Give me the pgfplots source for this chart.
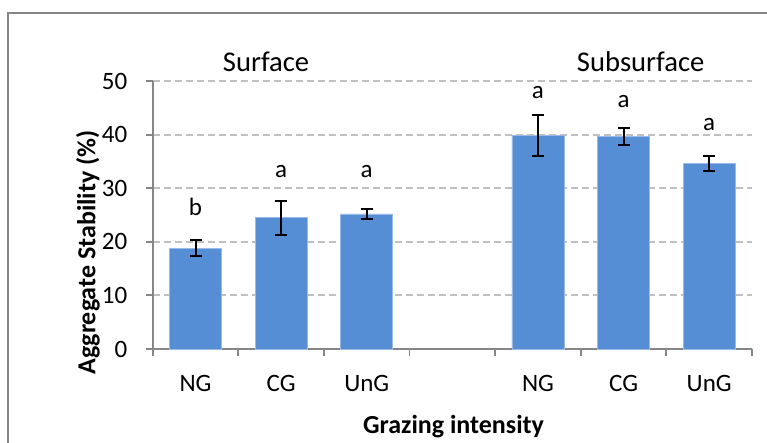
\documentclass[border=0pt]{standalone}
\usepackage{pgfplots}
\pgfplotsset{compat=1.18}
\usepackage{fontspec}
\setmainfont{Carlito}
\definecolor{barblue}{HTML}{558ED5}
\definecolor{axgray}{HTML}{868686}
\definecolor{gridgray}{HTML}{C0C0C0}
\pgfplotstableread{
x y err
0 18.8 1.5
1 24.5 3.2
2 25.2 1.0
4 39.8 3.8
5 39.7 1.6
6 34.7 1.4
}\datatable
\begin{document}
\begin{tikzpicture}
\begin{axis}[
  at={(0,0)}, anchor=south west,
  scale only axis, width=299.65pt, height=134pt,
  xmin=-0.5, xmax=6.5, ymin=0, ymax=50,
  axis lines=left, axis line style={-, axgray, line width=0.9pt},
  tick align=outside,
  major tick length=3.5pt,
  tick style={axgray, line width=0.9pt},
  ytick={0,10,...,50},
  xtick={-0.5,0.5,...,6.5}, xticklabels={},
  extra x ticks={0,1,2,4,5,6},
  extra x tick labels={NG,CG,UnG,NG,CG,UnG},
  extra x tick style={major tick length=0pt, xticklabel style={anchor=center, yshift=-17pt}},
  ymajorgrids,
  major grid style={gridgray, line width=1pt, dash pattern=on 3.5pt off 2pt},
  /pgf/number format/assume math mode=true,
  ticklabel style={font=\fontsize{12.5}{15}\selectfont},
  yticklabel style={inner sep=0pt, anchor=east, xshift=-9pt},
  ylabel={Aggregate Stability (\%)},
  ylabel style={at={(axis description cs:-0.108,0.36)}, anchor=center, font=\fontsize{13}{16}\selectfont\bfseries},
  xlabel={Grazing intensity},
  xlabel style={at={(axis description cs:0.502,-0.291)}, anchor=center, font=\fontsize{13}{16}\selectfont\bfseries},
  clip=false,
]
\addplot[ybar, bar width=26pt, bar shift=0pt, fill=barblue, draw=barblue!60!white, line width=0.4pt,
  error bars/.cd, y dir=both, y explicit,
  error bar style={black, line width=1pt},
  error mark options={rotate=90, mark size=3pt, black, line width=1pt}]
  table[x=x, y=y, y error=err]{\datatable};
\begin{scope}[font=\fontsize{12.5}{15}\selectfont]
\node at (axis cs:0,26.5) {b};
\node at (axis cs:1,33.1) {a};
\node at (axis cs:2,33.1) {a};
\node at (axis cs:4,47.8) {a};
\node at (axis cs:5,46.1) {a};
\node at (axis cs:6,41.8) {a};
\end{scope}
\node[font=\fontsize{14.3}{17}\selectfont] at (axis cs:0.824,53.6) {Surface};
\node[font=\fontsize{14.3}{17}\selectfont] at (axis cs:5.20,53.6) {Subsurface};
\end{axis}
\draw[axgray, line width=0.9pt] (-72.2pt,-47pt) -- (-72.2pt,167.85pt) -- (307.15pt,167.85pt);
\pgfresetboundingbox
\useasboundingbox (-76.35pt,-47pt) rectangle (307.15pt,174.5pt);
\end{tikzpicture}
\end{document}
